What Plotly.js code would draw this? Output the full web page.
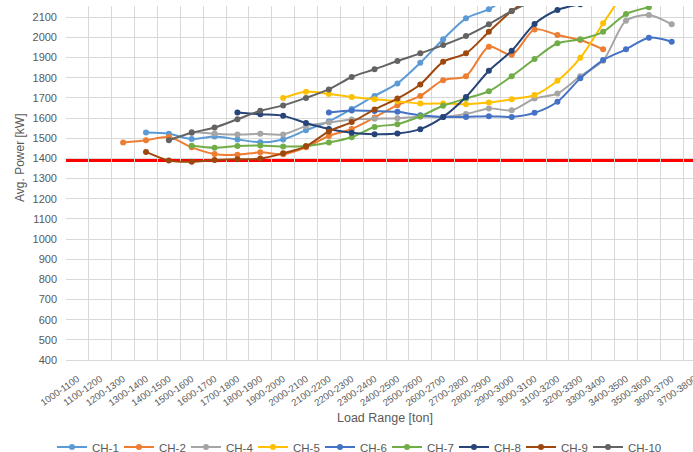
<!DOCTYPE html>
<html>
<head>
<meta charset="utf-8">
<script src="https://cdn.plot.ly/plotly-3.0.1.min.js"></script>
<style>
html,body{margin:0;padding:0;background:#fff;overflow:hidden;}
#chart{width:710px;height:470px;}
</style>
</head>
<body>
<div id="chart"></div>
<script>
// Categories (load ranges)
const loadRanges = ["1000-1100","1100-1200","1200-1300","1300-1400","1400-1500","1500-1600","1600-1700","1700-1800","1800-1900","1900-2000","2000-2100","2100-2200","2200-2300","2300-2400","2400-2500","2500-2600","2600-2700","2700-2800","2800-2900","2900-3000","3000-3100","3100-3200","3200-3300","3300-3400","3400-3500","3500-3600","3600-3700","3700-3800"];

// Series values (Avg. Power [kW]); null = no data
const ch1  = [null,null,null,1528,1522,1496,1509,1494,1480,1494,1540,1584,1645,1710,1772,1874,1991,2095,2140,2215,null,null,null,null,null,null,null,null];
const ch2  = [null,null,1479,1490,1506,1455,1422,1418,1430,1421,1455,1511,1546,1603,1664,1710,1788,1808,1954,1914,2040,2012,1987,1941,null,null,null,null];
const ch4  = [null,null,null,null,null,1531,1523,1518,1522,1519,1560,1578,1593,1597,1599,1607,1606,1620,1648,1639,1697,1722,1808,1885,2083,2111,2065,null];
const ch5  = [null,null,null,null,null,null,null,null,null,1700,1731,1720,1705,1693,1684,1672,1672,1669,1677,1694,1714,1785,1899,2070,2240,null,null,null];
const ch6  = [null,null,null,null,null,null,null,null,null,null,null,1628,1638,1635,1631,1614,1606,1606,1609,1606,1626,1681,1797,1888,1941,1999,1979,null];
const ch7  = [null,null,null,null,null,1463,1453,1462,1464,1459,1462,1479,1505,1556,1570,1609,1661,1697,1733,1808,1893,1971,1991,2028,2116,2150,null,null];
const ch8  = [null,null,null,null,null,null,null,1628,1619,1611,1576,1546,1527,1520,1523,1545,1606,1705,1835,1934,2067,2136,2165,null,null,null,null,null];
const ch9  = [null,null,null,1432,1389,1383,1392,1396,1399,1425,1460,1534,1580,1643,1697,1767,1879,1921,2028,2131,2210,null,null,null,null,null,null,null];
const ch10 = [null,null,null,null,1490,1527,1553,1594,1636,1663,1700,1742,1804,1842,1883,1921,1962,2007,2065,2131,2185,null,null,null,null,null,null,null];

const seriesNames = ["CH-1","CH-2","CH-4","CH-5","CH-6","CH-7","CH-8","CH-9","CH-10"];
const seriesValues = [ch1,ch2,ch4,ch5,ch6,ch7,ch8,ch9,ch10];
const seriesColors = ["#5B9BD5","#ED7D31","#A5A5A5","#FFC000","#4472C4","#70AD47","#264478","#9E480E","#636363"];

// Reference power level (red line)
const thresholdKW = 1392;

const yTicks = [400,500,600,700,800,900,1000,1100,1200,1300,1400,1500,1600,1700,1800,1900,2000,2100];

const FONT = "Liberation Sans, Arial, sans-serif";
const TXT = "#595959";

const traces = seriesNames.map((n, i) => ({
  type: "scatter",
  mode: "lines+markers",
  name: n,
  x: loadRanges,
  y: seriesValues[i],
  line: {color: seriesColors[i], width: 2, shape: "spline", smoothing: 0.8},
  marker: {color: seriesColors[i], size: 6},
  connectgaps: false,
  legendwidth: (i === seriesNames.length - 1) ? 40 : 22
}));

const layout = {
  width: 710,
  height: 470,
  margin: {l: 66, r: 4, t: 6, b: 110},
  paper_bgcolor: "#ffffff",
  plot_bgcolor: "#ffffff",
  font: {family: FONT, color: TXT, size: 11},
  showlegend: true,
  legend: {
    orientation: "h",
    x: -0.0219, xanchor: "left",
    y: -0.2458, yanchor: "middle",
    font: {family: FONT, size: 11.5, color: TXT},
    traceorder: "normal",
    itemwidth: 30,
    entrywidth: 22,
    entrywidthmode: "pixels",
    bgcolor: "rgba(0,0,0,0)"
  },
  xaxis: {
    type: "category",
    categoryorder: "array",
    categoryarray: loadRanges,
    range: [-0.5, 27.5],
    tickson: "boundaries",
    ticks: "",
    showgrid: true,
    gridcolor: "#d9d9d9",
    gridwidth: 1,
    showline: true,
    linecolor: "#d9d9d9",
    linewidth: 1,
    tickangle: -35,
    ticklabelstandoff: 9,
    tickfont: {family: FONT, size: 9.5, color: TXT},
    automargin: false,
    fixedrange: true
  },
  yaxis: {
    range: [400, 2156],
    tickmode: "array",
    tickvals: yTicks,
    ticktext: yTicks.map(String),
    ticks: "",
    showgrid: true,
    gridcolor: "#d9d9d9",
    gridwidth: 1,
    zeroline: false,
    showline: false,
    tickfont: {family: FONT, size: 11, color: TXT},
    ticklabelstandoff: 8,
    automargin: false,
    fixedrange: true
  },
  shapes: [{
    type: "line",
    xref: "paper", x0: 0, x1: 1,
    yref: "y", y0: thresholdKW, y1: thresholdKW,
    line: {color: "#FF0000", width: 4},
    layer: "below"
  }],
  annotations: [
    {
      text: "Avg. Power [kW]",
      xref: "paper", yref: "paper",
      x: -0.0719, y: 0.5706,
      xanchor: "center", yanchor: "middle",
      textangle: -90,
      showarrow: false,
      font: {family: FONT, size: 12, color: TXT}
    },
    {
      text: "Load Range [ton]",
      xref: "paper", yref: "paper",
      x: 0.498, y: -0.1638,
      xanchor: "center", yanchor: "middle",
      showarrow: false,
      font: {family: FONT, size: 12.5, color: TXT}
    }
  ]
};

Plotly.newPlot("chart", traces, layout, {displayModeBar: false, staticPlot: true});
</script>
</body>
</html>
